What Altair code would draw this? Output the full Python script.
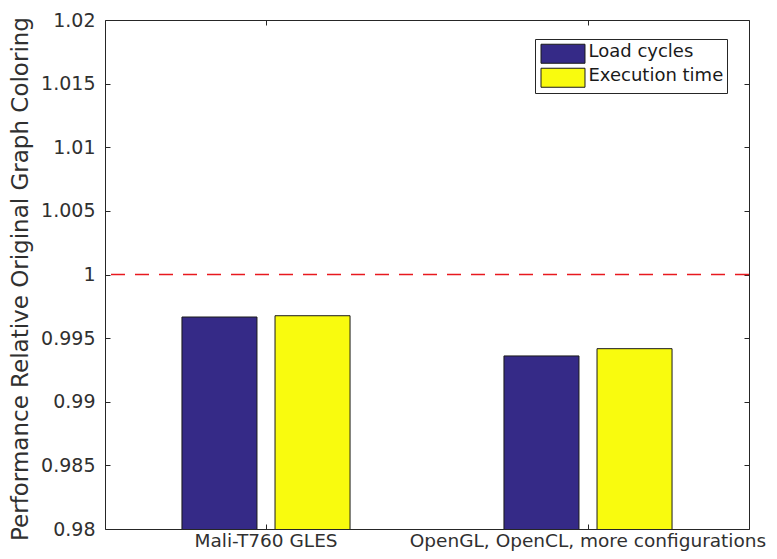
import altair as alt
import pandas as pd

platforms = ["Mali-T760 GLES", "OpenGL, OpenCL, more configurations"]
metrics = ["Load cycles", "Execution time"]
load_cycles = [0.99666, 0.99360]
execution_time = [0.99676, 0.99417]
y_ticks = [0.98, 0.985, 0.99, 0.995, 1.0, 1.005, 1.01, 1.015, 1.02]
baseline = [1.0]
colors = ["#352a87", "#f9fb0e"]

rows = []
for i, p in enumerate(platforms):
    rows.append({"platform": p, "metric": metrics[0], "value": load_cycles[i]})
    rows.append({"platform": p, "metric": metrics[1], "value": execution_time[i]})
df = pd.DataFrame(rows)
df_base = pd.DataFrame({"value": baseline})

W, H = 644, 509
AX = "#262626"
TXT = "#303030"

x_scale = alt.Scale(domain=platforms, paddingInner=0.478, paddingOuter=0.239)
y_scale = alt.Scale(domain=[0.98, 1.02], nice=False, zero=False)


def tick_axis(orient, offset, values=None):
    kw = dict(orient=orient, offset=offset, labels=False, domain=False, grid=False,
              ticks=True, tickSize=5, tickColor=AX, tickWidth=1, title=None)
    if values is not None:
        kw["values"] = values
    return alt.Axis(**kw)


bars = alt.Chart(df).mark_bar(clip=True, stroke="#1a1a1a", strokeWidth=1).encode(
    x=alt.X("platform:N", scale=x_scale, sort=platforms,
            axis=alt.Axis(orient="bottom", ticks=False, domain=False, grid=False,
                          labelAngle=0, labelFont="DejaVu Sans", labelFontSize=18.5,
                          labelColor=TXT, labelPadding=2, labelLimit=600, labelOverlap=False,
                          title=None)),
    xOffset=alt.XOffset("metric:N", sort=metrics,
                        scale=alt.Scale(domain=metrics, paddingInner=0.194, paddingOuter=0)),
    y=alt.Y("value:Q", scale=y_scale,
            axis=alt.Axis(orient="left", values=y_ticks, format="~g", ticks=False, domain=False,
                          grid=False, labelFont="DejaVu Sans", labelFontSize=19, labelColor=TXT,
                          labelPadding=10, title="Performance Relative Original Graph Coloring",
                          titleFont="DejaVu Sans", titleFontSize=23, titleFontWeight="normal",
                          titleColor=TXT, titleBaseline="alphabetic", titleX=-78, titleY=258.5)),
    color=alt.Color("metric:N", sort=metrics,
                    scale=alt.Scale(domain=metrics, range=colors),
                    legend=alt.Legend(orient="none", legendX=430, legendY=19, title=None,
                                      symbolType="M-2.444,-0.806L2.444,-0.806L2.444,1.306L-2.444,1.306Z",
                                      symbolSize=324, symbolStrokeColor="#1a1a1a",
                                      symbolStrokeWidth=1, symbolOpacity=1, symbolOffset=15.5,
                                      labelFont="DejaVu Sans", labelFontSize=18,
                                      labelColor="#1a1a1a", labelOffset=16, rowPadding=0,
                                      padding=3, strokeColor=AX, fillColor="white")),
)

ghost_a = alt.Chart(df).mark_point(opacity=0, size=1).encode(
    x=alt.X("platform:N", scale=x_scale, sort=platforms, axis=tick_axis("top", -H)),
    y=alt.Y("value:Q", scale=y_scale, axis=tick_axis("right", -W, y_ticks)),
)
ghost_b = alt.Chart(df).mark_point(opacity=0, size=1).encode(
    x=alt.X("platform:N", scale=x_scale, sort=platforms, axis=tick_axis("bottom", -H)),
    y=alt.Y("value:Q", scale=y_scale, axis=tick_axis("left", -W, y_ticks)),
)

rule = alt.Chart(df_base).mark_rule(color="#e8191f", strokeWidth=1.3, strokeDash=[14, 10]).encode(
    y=alt.Y("value:Q", scale=y_scale, axis=None)
)

chart = alt.layer(bars, ghost_a, ghost_b, rule).resolve_axis(
    x="independent", y="independent"
).properties(
    width=W, height=H,
    autosize=alt.AutoSizeParams(type="none"),
    padding={"left": 97, "top": 12, "right": 20, "bottom": 22},
    background="white",
).configure_view(stroke=AX, strokeWidth=1)

chart.save("out.html", embed_options={"renderer": "svg", "actions": False})
